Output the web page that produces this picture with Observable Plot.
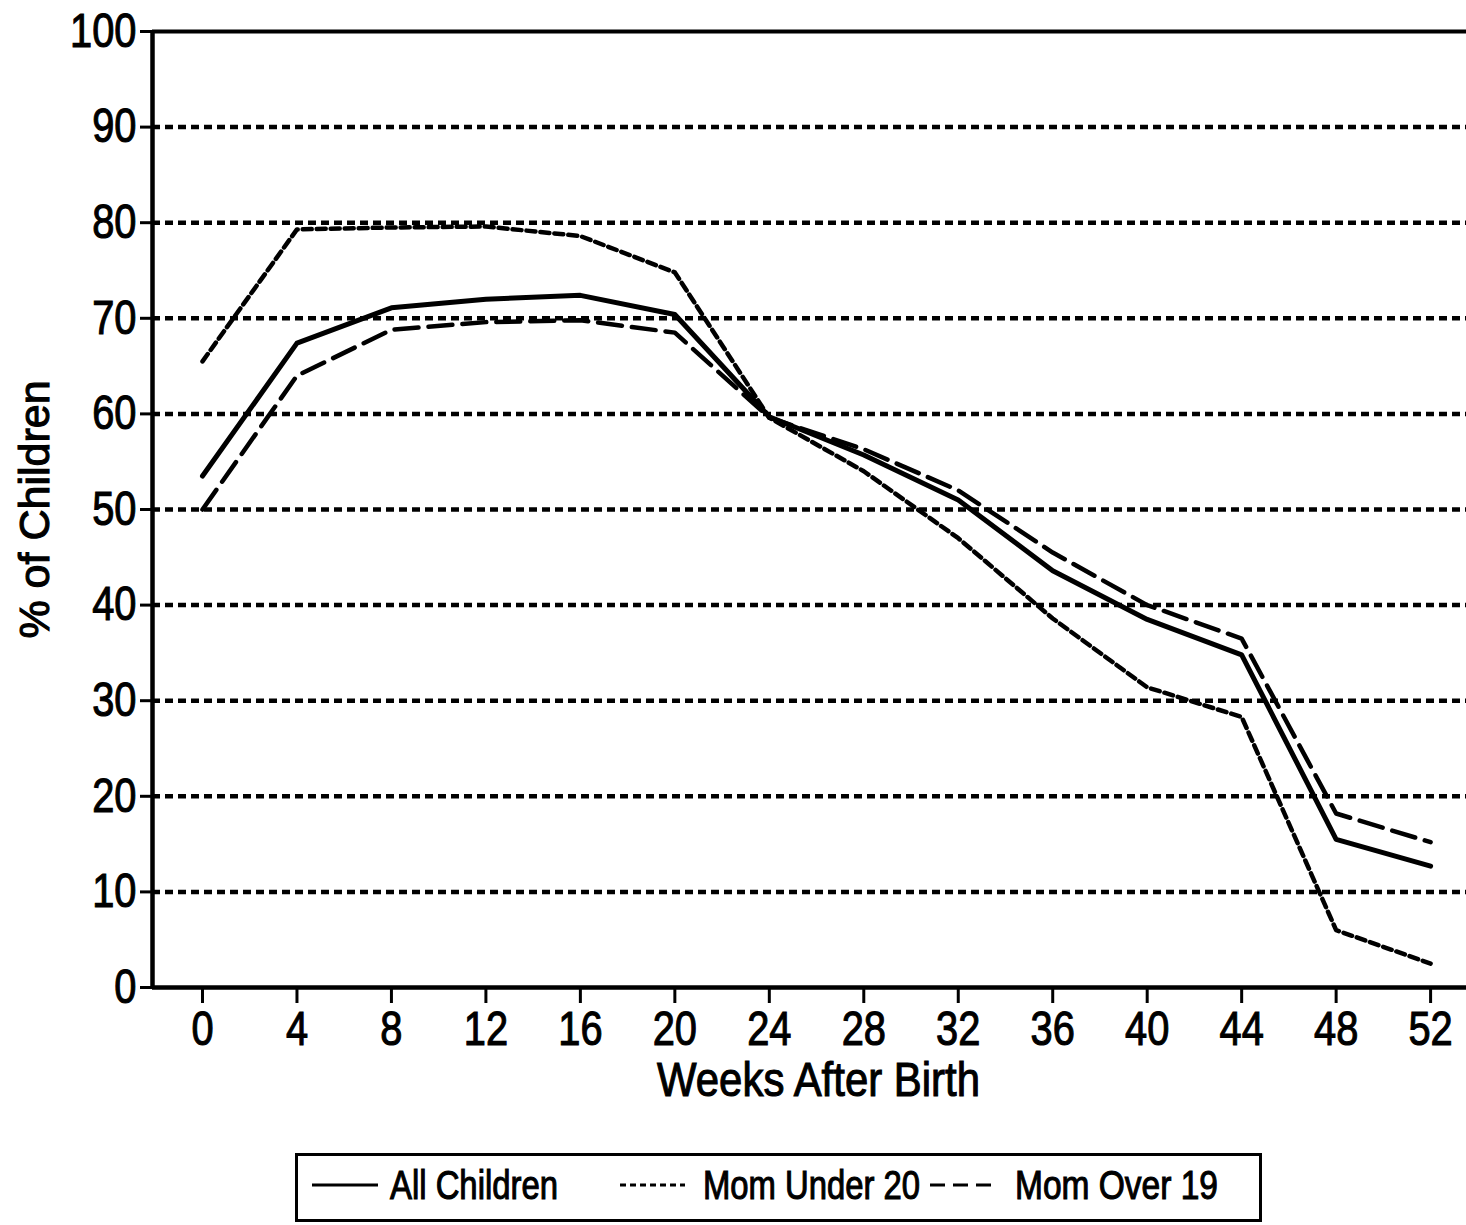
<!DOCTYPE html>
<html>
<head>
<meta charset="utf-8">
<script src="https://cdn.jsdelivr.net/npm/d3@7"></script>
<script src="https://cdn.jsdelivr.net/npm/@observablehq/plot@0.6"></script>
<style>
  html, body { margin: 0; padding: 0; background: #fff; }
  svg { display: block; }
  svg text { stroke: #000; stroke-width: 1.1px; }
</style>
</head>
<body>
<div id="chart"></div>
<script>
const weeks = [0, 4, 8, 12, 16, 20, 24, 28, 32, 36, 40, 44, 48, 52];
const allChildren = [53.5, 67.4, 71.1, 72.0, 72.4, 70.4, 59.7, 55.7, 51.0, 43.6, 38.5, 34.8, 15.5, 12.7];
const momUnder20 = [65.5, 79.3, 79.5, 79.6, 78.6, 74.8, 59.6, 54.0, 47.0, 38.6, 31.4, 28.3, 6.0, 2.5];
const momOver19 = [50.0, 64.0, 68.8, 69.6, 69.8, 68.5, 59.6, 56.3, 52.0, 45.5, 40.0, 36.5, 18.2, 15.2];
const xTicks = [0, 4, 8, 12, 16, 20, 24, 28, 32, 36, 40, 44, 48, 52];
const yTicks = [0, 10, 20, 30, 40, 50, 60, 70, 80, 90, 100];
const gridValues = [10, 20, 30, 40, 50, 60, 70, 80, 90];
const seriesNames = ["All Children", "Mom Under 20", "Mom Over 19"];

const rows = (vals) => weeks.map((w, i) => ({week: w, value: vals[i]}));
const font = '"Liberation Sans", Arial, Helvetica, sans-serif';
const xMin = -2.117, xMax = 53.52;

const plot = Plot.plot({
  width: 1466,
  height: 1110,
  marginLeft: 152,
  marginRight: 0,
  marginTop: 31,
  marginBottom: 123,
  style: {fontFamily: font, fontSize: "48px", color: "#000", background: "#fff"},
  x: {domain: [xMin, xMax]},
  y: {domain: [0, 100]},
  marks: [
    Plot.ruleY(gridValues, {stroke: "#000", strokeWidth: 4.5, strokeDasharray: "8,5"}),
    Plot.ruleY([100], {stroke: "#000", strokeWidth: 4}),
    Plot.ruleY([0], {stroke: "#000", strokeWidth: 4.5}),
    Plot.ruleX([xMin], {y1: 0, y2: 100, stroke: "#000", strokeWidth: 4.5}),
    Plot.lineY(rows(momUnder20), {x: "week", y: "value", stroke: "#000", strokeWidth: 4.5, strokeDasharray: "9,5"}),
    Plot.lineY(rows(momOver19), {x: "week", y: "value", stroke: "#000", strokeWidth: 4.5, strokeDasharray: "24,10"}),
    Plot.lineY(rows(allChildren), {x: "week", y: "value", stroke: "#000", strokeWidth: 5}),
    Plot.axisX(xTicks, {tickSize: 16, tickPadding: 7, strokeWidth: 3, label: null, fontSize: 48}),
    Plot.axisY(yTicks, {tickSize: 12, tickPadding: 4, strokeWidth: 3, label: null, fontSize: 48}),
    Plot.text(["% of Children"], {frameAnchor: "left", textAnchor: "middle", dx: -117, rotate: -90, fontSize: 43, text: d => d}),
    Plot.text(["Weeks After Birth"], {frameAnchor: "bottom", lineAnchor: "middle", dx: 9, dy: 93, fontSize: 48, text: d => d})
  ]
});
document.getElementById("chart").appendChild(plot);

// condense tick labels like the reference typeface
d3.select(plot).selectAll('g[aria-label="x-axis tick label"] text, g[aria-label="y-axis tick label"] text')
  .attr("transform", function() { return (d3.select(this).attr("transform") || "") + " scale(0.83,1)"; });
d3.select(plot).selectAll('g[aria-label="text"] text')
  .filter(function() { return d3.select(this).text() === "Weeks After Birth"; })
  .attr("textLength", 323).attr("lengthAdjust", "spacingAndGlyphs");

// Legend (below the plot)
const lg = d3.select("#chart").append("svg")
  .attr("width", 1466).attr("height", 115)
  .style("font-family", font);
lg.append("rect").attr("x", 296.5).attr("y", 44.5).attr("width", 964).attr("height", 66)
  .attr("fill", "none").attr("stroke", "#000").attr("stroke-width", 3);
const items = [
  {name: seriesNames[0], x1: 312, x2: 378, dash: null, tx: 390, tl: 168},
  {name: seriesNames[1], x1: 620, x2: 685, dash: "6,4", tx: 703, tl: 217},
  {name: seriesNames[2], x1: 930, x2: 992, dash: "15,8", tx: 1015, tl: 203}
];
for (const it of items) {
  const ln = lg.append("line").attr("x1", it.x1).attr("x2", it.x2).attr("y1", 75).attr("y2", 75)
    .attr("stroke", "#000").attr("stroke-width", 3);
  if (it.dash) ln.attr("stroke-dasharray", it.dash);
  lg.append("text").attr("x", it.tx).attr("y", 89).attr("font-size", 40)
    .attr("textLength", it.tl).attr("lengthAdjust", "spacingAndGlyphs")
    .text(it.name);
}
</script>
</body>
</html>
